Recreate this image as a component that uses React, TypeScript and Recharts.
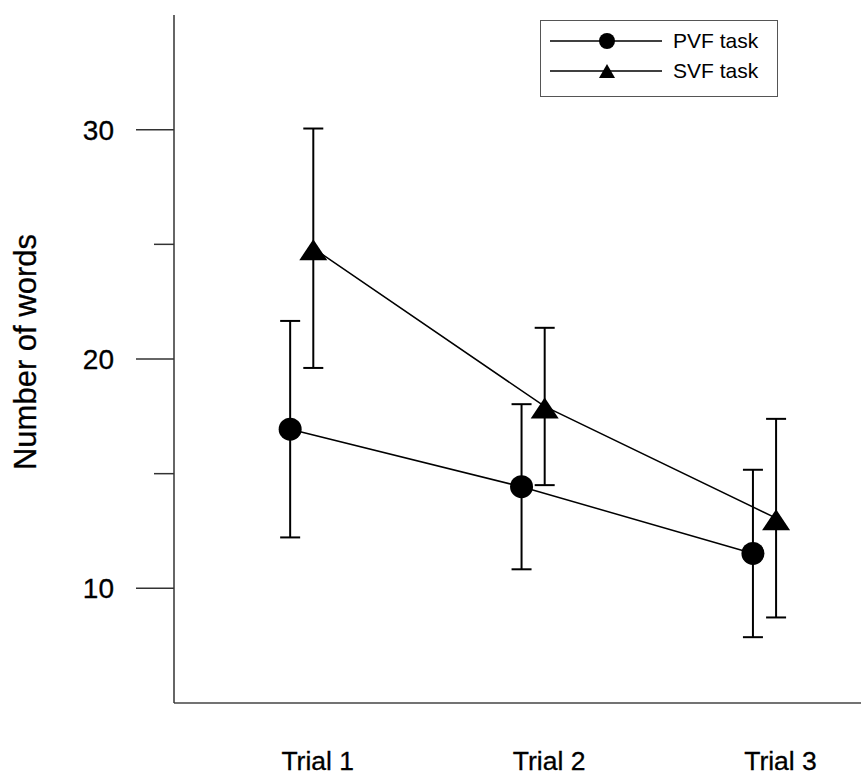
import React from 'react';
import { LineChart, Line, XAxis, YAxis, ErrorBar } from 'recharts';

const trials = ['Trial 1', 'Trial 2', 'Trial 3'];
const trialPos = [1, 2, 3];
const pvfMeans = [16.94, 14.43, 11.52];
const pvfErr = [4.72, 3.6, 3.65];
const svfMeans = [24.83, 17.93, 13.06];
const svfErr = [5.22, 3.43, 4.33];
const yTicks = [10, 15, 20, 25, 30];
const yLabelled = [10, 20, 30];
const seriesNames = ['PVF task', 'SVF task'];
const seriesOffset = 0.05;

const pvfData = trialPos.map((t, i) => ({ x: t - seriesOffset, y: pvfMeans[i], err: pvfErr[i] }));
const svfData = trialPos.map((t, i) => ({ x: t + seriesOffset, y: svfMeans[i], err: svfErr[i] }));

const FONT = 'Liberation Sans, Arial, Helvetica, sans-serif';

const CircleDot = (props: any) => {
  const { cx, cy, index } = props;
  if (cx == null || cy == null) return null;
  return <circle key={`c${index}`} cx={cx} cy={cy} r={11.5} fill="#000" />;
};

const TriangleDot = (props: any) => {
  const { cx, cy, index } = props;
  if (cx == null || cy == null) return null;
  return (
    <polygon
      key={`t${index}`}
      points={`${cx},${cy - 9} ${cx + 14},${cy + 12} ${cx - 14},${cy + 12}`}
      fill="#000"
    />
  );
};

const YTick = (props: any) => {
  const { x, y, payload } = props;
  const v = payload.value;
  const major = yLabelled.includes(v);
  return (
    <g>
      <line x1={x - (major ? 38 : 20)} x2={x} y1={y} y2={y} stroke="#333" strokeWidth={1.5} />
      {major && (
        <text x={x - 60} y={y + 10} textAnchor="end" fontSize={28} fontFamily={FONT} fill="#000" stroke="#000" strokeWidth={0.3}>
          {v}
        </text>
      )}
    </g>
  );
};

const XTick = (props: any) => {
  const { x, y, payload } = props;
  const idx = trialPos.indexOf(payload.value);
  return (
    <text x={x + 16} y={y + 67} textAnchor="middle" fontSize={26.5} fontFamily={FONT} fill="#000" stroke="#000" strokeWidth={0.3}>
      {trials[idx]}
    </text>
  );
};

const YLabel = () => (
  <text
    x={25}
    y={352}
    transform="rotate(-90, 25, 352)"
    textAnchor="middle"
    dominantBaseline="central"
    fontSize={31}
    fontFamily={FONT}
    fill="#000"
    stroke="#000"
    strokeWidth={0.3}
  >
    Number of words
  </text>
);

const LegendBox = () => (
  <svg width={238} height={77} style={{ display: 'block' }}>
    <rect x={0.5} y={0.5} width={237} height={76} fill="#fff" stroke="#555" strokeWidth={1} />
    <line x1={10} x2={122} y1={21} y2={21} stroke="#000" strokeWidth={1.5} />
    <circle cx={67} cy={21} r={8} fill="#000" />
    <text x={133} y={28} fontSize={21} fontFamily={FONT} fill="#000">
      {seriesNames[0]}
    </text>
    <line x1={10} x2={122} y1={51} y2={51} stroke="#000" strokeWidth={1.5} />
    <polygon points={`67,44 75,58 59,58`} fill="#000" />
    <text x={133} y={58} fontSize={21} fontFamily={FONT} fill="#000">
      {seriesNames[1]}
    </text>
  </svg>
);

export default function App() {
  return (
    <div style={{ position: 'absolute', left: 0, top: 0, width: 861, height: 779, background: '#fff' }}>
      <LineChart width={861} height={779} margin={{ top: 15, right: 0, bottom: 0, left: 0 }}>
        <XAxis
          type="number"
          dataKey="x"
          domain={[0.448, 3.417]}
          ticks={trialPos}
          allowDataOverflow
          tickLine={false}
          tickSize={0}
          tickMargin={0}
          axisLine={{ stroke: '#444', strokeWidth: 1.5 }}
          tick={<XTick />}
          height={76}
        />
        <YAxis
          type="number"
          dataKey="y"
          domain={[5, 35]}
          ticks={yTicks}
          allowDataOverflow
          width={174}
          tickLine={false}
          tickSize={0}
          tickMargin={0}
          axisLine={{ stroke: '#333', strokeWidth: 1.5 }}
          tick={<YTick />}
          label={<YLabel />}
        />
        <Line
          data={pvfData}
          dataKey="y"
          name={seriesNames[0]}
          type="linear"
          stroke="#000"
          strokeWidth={1.5}
          dot={<CircleDot />}
          activeDot={false}
          isAnimationActive={false}
        >
          <ErrorBar dataKey="err" direction="y" width={10} stroke="#000" strokeWidth={2} isAnimationActive={false} />
        </Line>
        <Line
          data={svfData}
          dataKey="y"
          name={seriesNames[1]}
          type="linear"
          stroke="#000"
          strokeWidth={1.5}
          dot={<TriangleDot />}
          activeDot={false}
          isAnimationActive={false}
        >
          <ErrorBar dataKey="err" direction="y" width={10} stroke="#000" strokeWidth={2} isAnimationActive={false} />
        </Line>
      </LineChart>
      <div style={{ position: 'absolute', left: 540, top: 20 }}>
        <LegendBox />
      </div>
    </div>
  );
}
